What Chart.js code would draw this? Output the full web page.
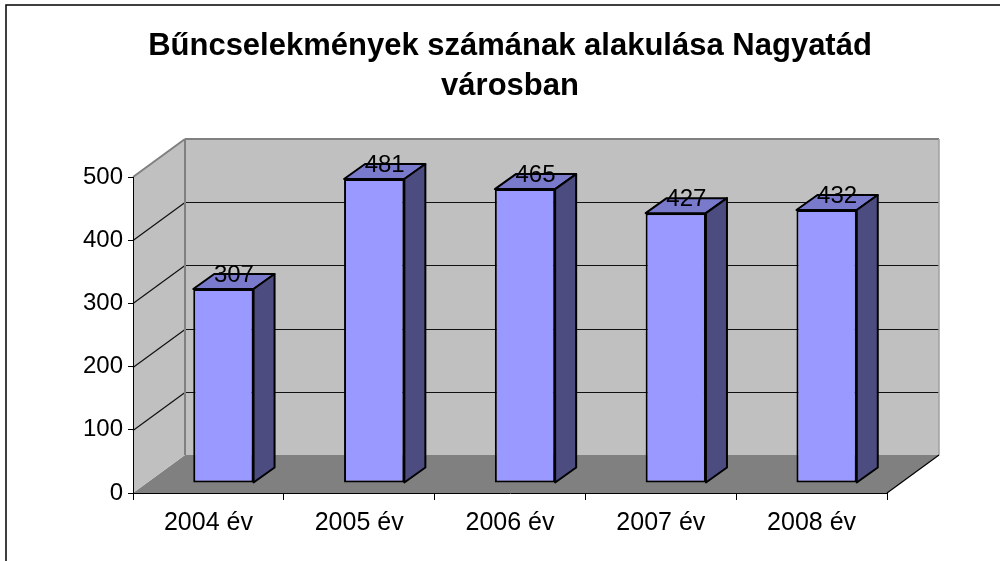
<!DOCTYPE html>
<html lang="hu">
<head>
    <meta charset="UTF-8">
    <title>Bűncselekmények számának alakulása Nagyatád városban</title>
    <style>
        body { margin: 0; background: #fff; }
        .wrap { position: relative; width: 1000px; height: 561px; }
    </style>
    <script src="https://cdn.jsdelivr.net/npm/chart.js"></script>
</head>
<body>
    <div class="wrap"><canvas id="chart"></canvas></div>

    <script>
        // Data
        const years = ['2004 év', '2005 év', '2006 év', '2007 év', '2008 év'];
        const crimes = [307, 481, 465, 427, 432];
        const yTicks = [0, 100, 200, 300, 400, 500];

        // Excel-like 3D look
        const WALL = { dx: 52, dy: -38 };        // depth of back wall
        const BAR_SHIFT = { dx: 15, dy: -10 };   // bars stand a bit inside the floor
        const BAR_DEPTH = { dx: 21, dy: -15 };

        const FONT = 'Arial, "Liberation Sans", sans-serif';

        function poly(ctx, pts, fill, stroke, lw) {
            ctx.beginPath();
            pts.forEach((p, i) => i ? ctx.lineTo(p[0], p[1]) : ctx.moveTo(p[0], p[1]));
            ctx.closePath();
            if (fill) { ctx.fillStyle = fill; ctx.fill(); }
            if (stroke) { ctx.strokeStyle = stroke; ctx.lineWidth = lw || 1; ctx.stroke(); }
        }

        function line(ctx, x1, y1, x2, y2, color, lw) {
            ctx.beginPath();
            ctx.moveTo(x1, y1);
            ctx.lineTo(x2, y2);
            ctx.strokeStyle = color;
            ctx.lineWidth = lw;
            ctx.stroke();
        }

        // walls, floor and gridlines, drawn before the axes
        const walls = {
            id: 'walls',
            beforeDraw(chart) {
                const { ctx, chartArea: a, scales: { y } } = chart;
                const L = a.left, R = a.right, T = a.top, B = a.bottom;
                const dx = WALL.dx, dy = WALL.dy;
                ctx.save();

                // outer frame (cut off on the right and bottom)
                ctx.strokeStyle = '#000';
                ctx.lineWidth = 1.5;
                ctx.strokeRect(6, 5, 1200, 800);

                poly(ctx, [[L, B], [R, B], [R + dx, B + dy], [L + dx, B + dy]], '#808080');
                poly(ctx, [[L, T], [L + dx, T + dy], [L + dx, B + dy], [L, B]], '#c0c0c0');
                poly(ctx, [[L + dx, T + dy], [R + dx, T + dy], [R + dx, B + dy], [L + dx, B + dy]], '#c0c0c0');

                yTicks.forEach(v => {
                    if (v <= y.min || v >= y.max) return;
                    const py = Math.round(y.getPixelForValue(v)) + 0.5;
                    line(ctx, L, py, L + dx, py + dy, '#111', 1.2);
                    line(ctx, L + dx, py + dy, R + dx, py + dy, '#111', 1.2);
                });

                // wall edges
                line(ctx, L, T, L + dx, T + dy, '#808080', 2);
                line(ctx, L + dx, T + dy, R + dx, T + dy, '#808080', 2);
                line(ctx, L + dx, T + dy, L + dx, B + dy, '#808080', 2);
                line(ctx, R + dx, T + dy, R + dx, B + dy, '#a0a0a0', 1.5);
                line(ctx, R, B, R + dx, B + dy, '#000', 1.2);
                ctx.restore();
            }
        };

        // shifts the bars into the floor and adds top and side faces + value labels
        const bars3d = {
            id: 'bars3d',
            beforeDatasetsDraw(chart) {
                chart.ctx.save();
                chart.ctx.translate(BAR_SHIFT.dx, BAR_SHIFT.dy);
            },
            afterDatasetsDraw(chart) {
                const ctx = chart.ctx;
                const meta = chart.getDatasetMeta(0);
                ctx.lineJoin = 'round';
                meta.data.forEach(bar => {
                    const p = bar.getProps(['x', 'y', 'base', 'width'], true);
                    const l = p.x - p.width / 2, r = p.x + p.width / 2, t = p.y, b = p.base;
                    const dx = BAR_DEPTH.dx, dy = BAR_DEPTH.dy;
                    poly(ctx, [[l, t], [r, t], [r + dx, t + dy], [l + dx, t + dy]], '#7a7acc', '#000', 2);
                    poly(ctx, [[r, t], [r + dx, t + dy], [r + dx, b + dy], [r, b]], '#4c4c80', '#000', 2);
                });
                ctx.restore();

                ctx.save();
                ctx.fillStyle = '#000';
                ctx.font = '24px ' + FONT;
                ctx.textAlign = 'center';
                ctx.textBaseline = 'alphabetic';
                meta.data.forEach((bar, i) => {
                    const p = bar.getProps(['x', 'y'], true);
                    ctx.fillText(String(crimes[i]), p.x + BAR_SHIFT.dx + BAR_DEPTH.dx / 2, p.y + BAR_SHIFT.dy - 7);
                });
                ctx.restore();
            }
        };

        new Chart(document.getElementById('chart'), {
            type: 'bar',
            data: {
                labels: years,
                datasets: [{
                    data: crimes,
                    backgroundColor: '#9999ff',
                    borderColor: '#000',
                    borderWidth: 2,
                    borderSkipped: false,
                    barPercentage: 0.4,
                    categoryPercentage: 1,
                    clip: false
                }]
            },
            options: {
                responsive: true,
                maintainAspectRatio: false,
                animation: false,
                layout: { padding: { top: 0, right: 113, bottom: 0, left: 0 } },
                plugins: {
                    legend: { display: false },
                    tooltip: { enabled: false },
                    title: {
                        display: true,
                        fullSize: false,
                        text: ['Bűncselekmények számának alakulása Nagyatád', 'városban'],
                        color: '#000',
                        font: { family: FONT, size: 31, weight: 'bold', lineHeight: 40 / 31 },
                        padding: { top: 26, bottom: 71 }
                    }
                },
                scales: {
                    x: {
                        grid: { offset: true, drawOnChartArea: false, tickLength: 7, color: '#000' },
                        border: { color: '#000', width: 1 },
                        ticks: { color: '#000', font: { family: FONT, size: 25 }, padding: 8, maxRotation: 0 },
                        afterFit(s) { s.height = 68; }
                    },
                    y: {
                        min: yTicks[0],
                        max: yTicks[yTicks.length - 1],
                        afterBuildTicks(s) { s.ticks = yTicks.map(v => ({ value: v })); },
                        grid: { drawOnChartArea: false, tickLength: 5, color: '#000' },
                        border: { color: '#000', width: 1 },
                        ticks: { color: '#000', font: { family: FONT, size: 24 }, padding: 5 },
                        afterFit(s) { s.width = 133; }
                    }
                }
            },
            plugins: [walls, bars3d]
        });
    </script>
</body>
</html>
